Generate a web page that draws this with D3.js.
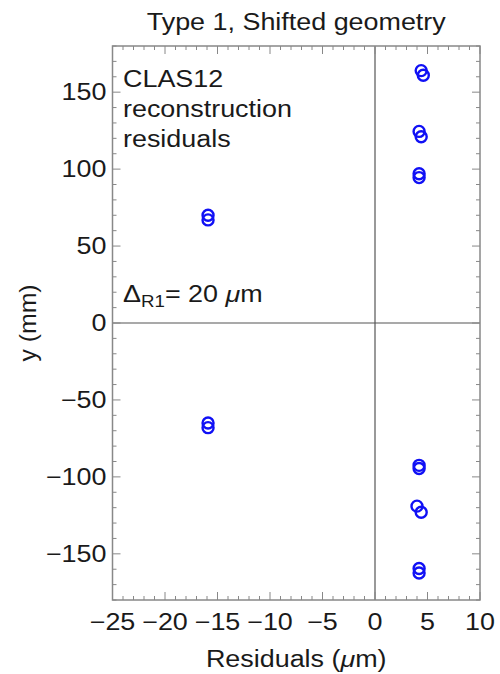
<!DOCTYPE html>
<html>
<head>
<meta charset="utf-8">
<script src="https://cdn.jsdelivr.net/npm/d3@7"></script>
<style>
  body { margin: 0; background: #fff; }
  text { font-family: "Liberation Sans", Arial, sans-serif; fill: #1a1a1a; font-size: 23px; }
</style>
</head>
<body>
<svg id="chart" width="500" height="674"></svg>
<script>
// residuals (um) and track y positions (mm)
var residuals = [4.4, 4.6, 4.2, 4.4, 4.2, 4.2, -15.9, -15.9, -15.9, -15.9, 4.2, 4.2, 4.0, 4.4, 4.2, 4.2];
var yPos = [164, 161, 124.5, 121, 97, 94.5, 70, 67, -65, -68, -92.5, -94.5, -119, -123, -159.5, -162.5];

var xTicks = [-25, -20, -15, -10, -5, 0, 5, 10];
var yTicks = [-150, -100, -50, 0, 50, 100, 150];

var svg = d3.select('#chart');
var margin = {left: 112.5, right: 20, top: 46, bottom: 74};
var width = 500, height = 674;
var stretch = 1.17;   // text in the original is a bit wider than Liberation Sans

var x = d3.scaleLinear().domain([-25, 10]).range([margin.left, width - margin.right]);
var y = d3.scaleLinear().domain([-180, 180]).range([height - margin.bottom, margin.top]);

var frameColor = "#888";

function label(px, py, anchor) {
    return svg.append("text")
        .attr("transform", "translate(" + px + "," + py + ") scale(" + stretch + ",1)")
        .attr("text-anchor", anchor);
}

function fmt(d) { return d < 0 ? "\u2212" + Math.abs(d) : String(d); }

// zero lines
svg.append("line")
    .attr("x1", x(0)).attr("x2", x(0))
    .attr("y1", y(-180)).attr("y2", y(180))
    .attr("stroke", "#555").attr("stroke-width", 1.2);
svg.append("line")
    .attr("x1", x(-25)).attr("x2", x(10))
    .attr("y1", y(0)).attr("y2", y(0))
    .attr("stroke", "#555").attr("stroke-width", 1.2);

// ticks on all sides, pointing inward
var xMinor = d3.range(-25, 10.01, 1);
var yMinor = d3.range(-180, 180.01, 10);

function isMajor(v, step) { return Math.abs(v % step) < 1e-6; }

var ticksG = svg.append("g").attr("stroke", frameColor).attr("stroke-width", 1);
xMinor.forEach(function(v) {
    var len = isMajor(v, 5) ? 8 : 4;
    ticksG.append("line").attr("x1", x(v)).attr("x2", x(v))
        .attr("y1", y(-180)).attr("y2", y(-180) - len);
    ticksG.append("line").attr("x1", x(v)).attr("x2", x(v))
        .attr("y1", y(180)).attr("y2", y(180) + len);
});
yMinor.forEach(function(v) {
    var len = isMajor(v, 50) ? 8 : 4;
    ticksG.append("line").attr("y1", y(v)).attr("y2", y(v))
        .attr("x1", x(-25)).attr("x2", x(-25) + len);
    ticksG.append("line").attr("y1", y(v)).attr("y2", y(v))
        .attr("x1", x(10)).attr("x2", x(10) - len);
});

// frame
svg.append("rect")
    .attr("x", x(-25)).attr("y", y(180))
    .attr("width", x(10) - x(-25)).attr("height", y(-180) - y(180))
    .attr("fill", "none").attr("stroke", frameColor).attr("stroke-width", 1.5);

// tick labels
xTicks.forEach(function(d) {
    label(x(d), y(-180) + 30, "middle").text(fmt(d));
});
yTicks.forEach(function(d) {
    label(x(-25) - 6, y(d) + 8, "end").text(fmt(d));
});

// titles
label((x(-25) + x(10)) / 2, 30, "middle").text("Type 1, Shifted geometry");

var xl = label((x(-25) + x(10)) / 2, 667, "middle");
xl.append("tspan").text("Residuals (");
xl.append("tspan").style("font-style", "italic").text("\u03bc");
xl.append("tspan").text("m)");

svg.append("text")
    .attr("transform", "translate(36," + y(0) + ") rotate(-90) scale(1.08,1)")
    .attr("text-anchor", "middle")
    .text("y (mm)");

// annotations
["CLAS12", "reconstruction", "residuals"].forEach(function(s, i) {
    label(123, 87 + i * 30, "start").text(s);
});

var delta = label(123, 302, "start");
delta.append("tspan").text("\u0394");
delta.append("tspan").attr("dy", 5).style("font-size", "16px").text("R1");
delta.append("tspan").attr("dy", -5).text("= 20 ");
delta.append("tspan").style("font-style", "italic").text("\u03bc");
delta.append("tspan").text("m");

// points
svg.append("g").selectAll("circle").data(residuals).enter().append("circle")
    .attr("cx", function(d) { return x(d); })
    .attr("cy", function(d, i) { return y(yPos[i]); })
    .attr("r", 5.5)
    .attr("fill", "none")
    .attr("stroke", "#1010f5")
    .attr("stroke-width", 2.4);
</script>
</body>
</html>
